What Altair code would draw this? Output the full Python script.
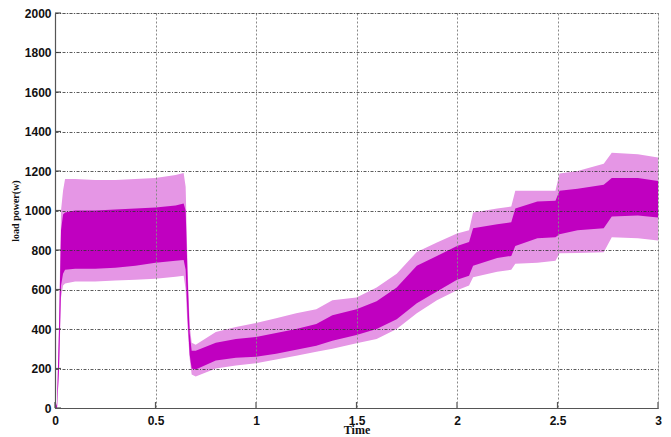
import altair as alt
import pandas as pd

# time nodes (s)
t = [0.0, 0.01, 0.02, 0.03, 0.04, 0.05, 0.1, 0.2, 0.3, 0.4, 0.5, 0.6, 0.64,
     0.65, 0.66, 0.67, 0.68, 0.7, 0.8, 0.9, 1.0, 1.1, 1.2, 1.3, 1.38, 1.5,
     1.6, 1.7, 1.8, 1.9, 2.0, 2.06, 2.08, 2.2, 2.27, 2.29, 2.4, 2.49, 2.51,
     2.6, 2.73, 2.77, 2.9, 3.0]
# outer (light) envelope of the oscillation
outer_lo = [0, 0, 180, 560, 620, 630, 640, 640, 645, 650, 655, 665, 670,
            600, 400, 250, 170, 160, 200, 215, 227, 245, 265, 285, 300, 328,
            350, 400, 480, 545, 596, 620, 662, 690, 700, 730, 735, 745, 783,
            785, 788, 864, 860, 848]
outer_hi = [0, 30, 420, 1000, 1100, 1160, 1160, 1155, 1155, 1160, 1165, 1180, 1190,
            1120, 700, 420, 330, 320, 385, 410, 430, 455, 480, 500, 545, 560,
            610, 680, 790, 838, 884, 900, 990, 1010, 1020, 1100, 1100, 1100, 1187,
            1200, 1237, 1293, 1285, 1268]
# inner (dense) core of the oscillation
inner_lo = [0, 0, 200, 620, 680, 700, 705, 705, 710, 720, 735, 745, 750,
            700, 450, 270, 200, 195, 240, 255, 260, 275, 295, 315, 340, 370,
            400, 450, 530, 590, 650, 670, 720, 760, 770, 820, 860, 865, 880,
            900, 910, 970, 975, 965]
inner_hi = [0, 20, 400, 900, 980, 990, 1000, 1000, 1005, 1010, 1015, 1025, 1035,
            1000, 650, 380, 290, 290, 330, 350, 360, 380, 400, 425, 470, 500,
            540, 610, 720, 770, 820, 840, 910, 930, 940, 1010, 1045, 1050, 1100,
            1110, 1130, 1165, 1165, 1150]

x_ticks = [0, 0.5, 1, 1.5, 2, 2.5, 3]
y_ticks = [0, 200, 400, 600, 800, 1000, 1200, 1400, 1600, 1800, 2000]

df = pd.DataFrame({"t": t, "olo": outer_lo, "ohi": outer_hi,
                   "ilo": inner_lo, "ihi": inner_hi})

W, H = 603, 395
xs = alt.Scale(domain=[0, 3], nice=False, zero=False)
ys = alt.Scale(domain=[0, 2000], nice=False)

x_axis = alt.Axis(values=x_ticks, title="Time", format=".1~f",
                  labelFont="Liberation Sans", labelFontWeight="bold", labelFontSize=12,
                  labelColor="#111", labelPadding=7, labelOverlap=False,
                  titleFont="Liberation Serif", titleFontWeight="bold", titleFontSize=12,
                  titlePadding=-2, titleColor="#111", grid=True, gridColor="#888",
                  gridDash=[2, 2], gridWidth=1, ticks=False, domainColor="#555",
                  domainWidth=1.2, zindex=1, labelFlush=False)
y_axis = alt.Axis(values=y_ticks, title="load power(w)", format="d",
                  labelFont="Liberation Sans", labelFontWeight="bold", labelFontSize=12,
                  labelColor="#111", labelPadding=4, labelOverlap=False,
                  titleFont="Liberation Serif", titleFontWeight="bold", titleFontSize=10,
                  titlePadding=4, titleColor="#111", grid=True, gridColor="#333",
                  gridDash=[3, 1.5, 1, 1.5], gridWidth=0.8, ticks=False,
                  domainColor="#555", domainWidth=1.2, zindex=1)

base = alt.Chart(df)
outer = base.mark_area(color="#e596e5", opacity=1).encode(
    x=alt.X("t:Q", scale=xs, axis=x_axis),
    y=alt.Y("olo:Q", scale=ys, axis=y_axis),
    y2="ohi:Q")
inner = base.mark_area(color="#c000c0").encode(
    x=alt.X("t:Q", scale=xs, axis=x_axis), y=alt.Y("ilo:Q", scale=ys, axis=y_axis),
    y2="ihi:Q")

xt = alt.Chart(pd.DataFrame({"v": x_ticks})).mark_rule(color="#555", strokeWidth=1.2).encode(
    x=alt.X("v:Q", scale=xs, axis=x_axis), y=alt.value(H), y2=alt.value(H - 6))
yt = alt.Chart(pd.DataFrame({"v": y_ticks})).mark_rule(color="#555", strokeWidth=1.2).encode(
    y=alt.Y("v:Q", scale=ys, axis=y_axis), x=alt.value(0), x2=alt.value(6))

chart = alt.layer(outer, inner, xt, yt).properties(
    width=W, height=H,
    autosize=alt.AutoSizeParams(type="none"),
    padding={"left": 47, "top": 5, "right": 4, "bottom": 29},
).configure_view(stroke="#999", strokeWidth=1.2).configure(background="white")

chart.save("out.html", embed_options={"renderer": "svg", "actions": False})
